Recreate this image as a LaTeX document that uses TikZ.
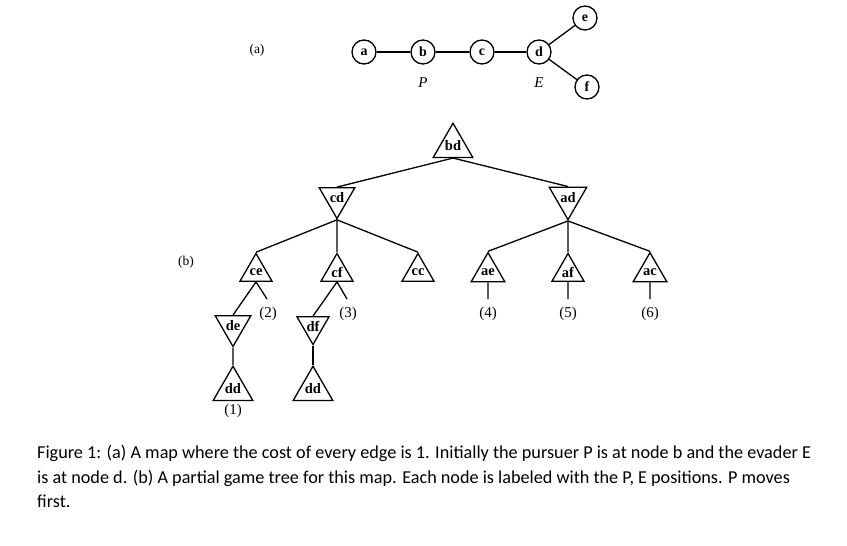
\documentclass[tikz,border=0pt]{standalone}
\usepackage{fontspec}
\setmainfont{Liberation Serif}
\newfontfamily\capfont{Carlito}
\usepackage{tikz}
\usetikzlibrary{shapes.geometric}
\tikzstyle{place} = [circle, draw=black, line width=1.3pt, minimum size=24pt, inner sep=0pt, font=\fontsize{14}{16}\selectfont\bfseries]
\tikzstyle{maxnode} = [regular polygon, regular polygon sides=3, draw=black, line width=1.3pt, minimum size=37pt, inner sep=0pt, font=\fontsize{14.5}{16}\selectfont\bfseries]
\tikzstyle{minnode} = [maxnode, shape border rotate=180]
\tikzstyle{edge} = [line width=1.3pt]
\tikzstyle{tag} = [inner sep=0pt, font=\fontsize{15}{17}\selectfont]
\tikzstyle{caption} = [anchor=base west, inner sep=0pt, font=\capfont\fontsize{18.2}{24.5}\selectfont]

\begin{document}
\begin{tikzpicture}[x=1pt, y=-1pt]
        \useasboundingbox (0,0) rectangle (847,546);
        % (a) the map
        \node (lbla) [tag, font=\fontsize{13.5}{15}\selectfont] at (257,50) {(a)};
        \node (a) [place] at (364,52) {a};
        \node (b) [place] at (423,52) {b};
        \draw [edge] (a) -- (b);
        \node (c) [place] at (482,52) {c};
        \draw [edge] (b) -- (c);
        \node (d) [place] at (539,52) {d};
        \draw [edge] (c) -- (d);
        \node (e) [place] at (585,18) {e};
        \draw [edge] (d) -- (e);
        \node (f) [place] at (587,87) {f};
        \draw [edge] (d) -- (f);
        \node (P) [tag, font=\fontsize{15}{17}\selectfont\itshape] at (423,83) {P};
        \node (E) [tag, font=\fontsize{15}{17}\selectfont\itshape] at (539,83) {E};
        % (b) the game tree
        \node (lblb) [tag, font=\fontsize{13.5}{15}\selectfont] at (186,262) {(b)};
        \node (bd) [maxnode] at (453,146) {bd};
        \node (cd) [minnode] at (337,198) {cd};
        \draw [edge] (bd.south) -- (cd.north);
        \node (ad) [minnode] at (568,198) {ad};
        \draw [edge] (bd.south) -- (ad.north);
        \node (ce) [maxnode] at (256,272) {ce};
        \draw [edge] (cd.south) -- (ce.north);
        \node (cf) [maxnode] at (337,272) {cf};
        \draw [edge] (cd.south) -- (cf.north);
        \node (cc) [maxnode] at (418,272) {cc};
        \draw [edge] (cd.south) -- (cc.north);
        \node (ae) [maxnode] at (488,272) {ae};
        \draw [edge] (ad.south) -- (ae.north);
        \node (af) [maxnode] at (568,272) {af};
        \draw [edge] (ad.south) -- (af.north);
        \node (ac) [maxnode] at (650,272) {ac};
        \draw [edge] (ad.south) -- (ac.north);
        \node (de) [minnode] at (233,326) {de};
        \draw [edge] (ce.south) -- (de.north);
        \node (df) [minnode] at (313,326) {df};
        \draw [edge] (cf.south) -- (df.north);
        \node (dd1) [maxnode] at (233,389) {dd};
        \draw [edge] (de.south) -- (dd1.north);
        \node (dd2) [maxnode] at (313,389) {dd};
        \draw [edge] (df.south) -- (dd2.north);
        % unexpanded branches
        \coordinate (end2) at (267,299);
        \draw [edge] (ce.south) -- (end2);
        \coordinate (end3) at (347,299);
        \draw [edge] (cf.south) -- (end3);
        \coordinate (end4) at (488,299);
        \draw [edge] (ae.south) -- (end4);
        \coordinate (end5) at (568,299);
        \draw [edge] (af.south) -- (end5);
        \coordinate (end6) at (650,299);
        \draw [edge] (ac.south) -- (end6);
        \node (n1) [tag] at (233,411) {(1)};
        \node (n2) [tag] at (268,314) {(2)};
        \node (n3) [tag] at (348,314) {(3)};
        \node (n4) [tag] at (488,314) {(4)};
        \node (n5) [tag] at (568,314) {(5)};
        \node (n6) [tag] at (650,314) {(6)};
        % caption
        \node (cap1) [caption] at (37,458) {Figure 1: (a) A map where the cost of every edge is 1. Initially the pursuer P is at node b and the evader E};
        \node (cap2) [caption] at (37,483) {is at node d. (b) A partial game tree for this map. Each node is labeled with the P, E positions. P moves};
        \node (cap3) [caption] at (37,507) {first.};
\end{tikzpicture}
\end{document}
